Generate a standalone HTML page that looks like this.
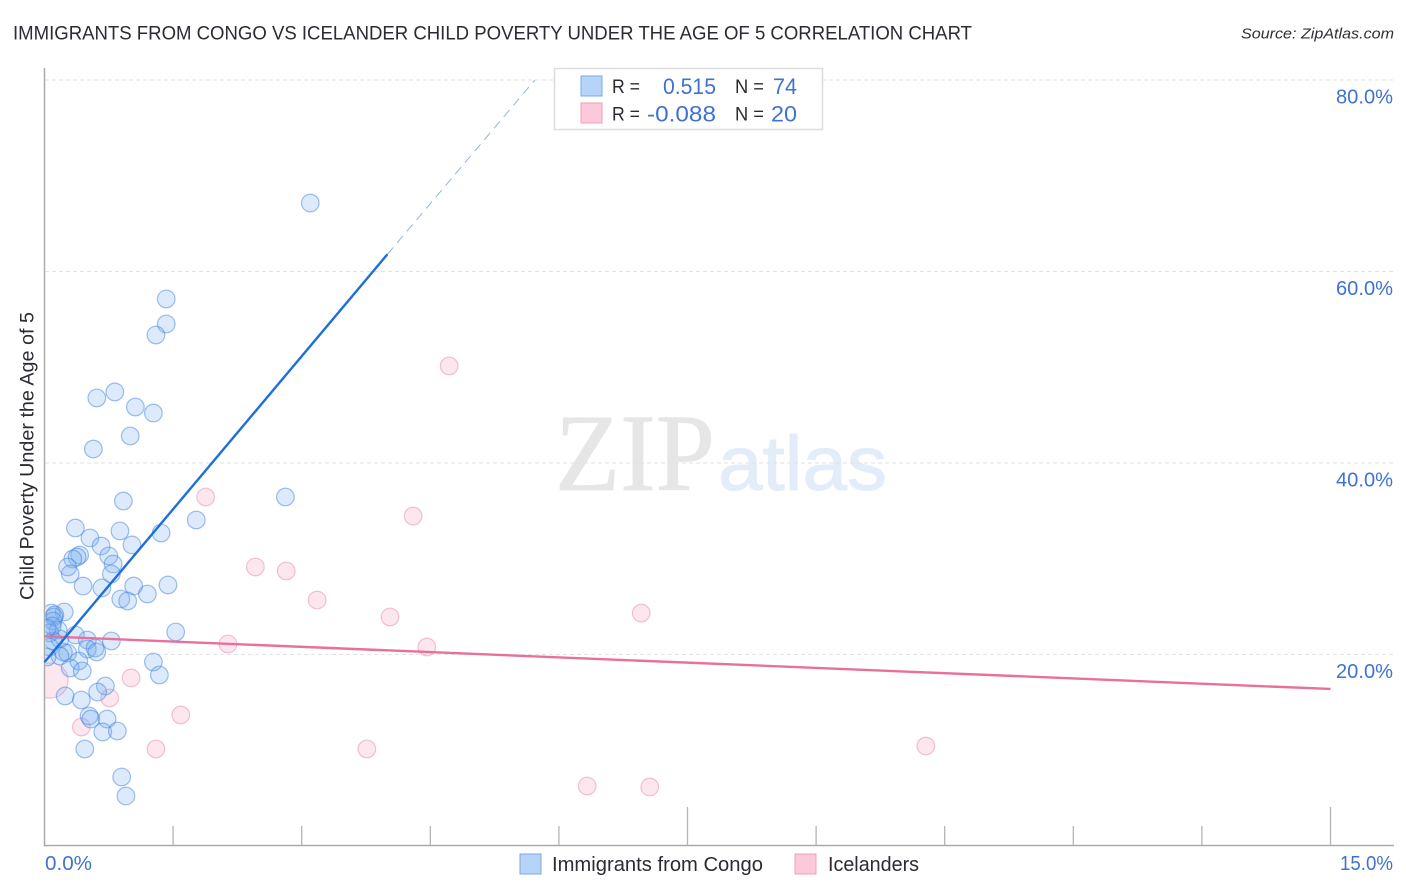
<!DOCTYPE html>
<html lang="en">
<head>
<meta charset="utf-8">
<title>Immigrants from Congo vs Icelander Child Poverty Correlation Chart</title>
<style>
html,body{margin:0;padding:0;background:#fff;}
body{width:1406px;height:892px;overflow:hidden;}
svg{display:block;}
text{font-family:"Liberation Sans",sans-serif;}
</style>
</head>
<body>
<svg id="chart" xmlns="http://www.w3.org/2000/svg" width="1406" height="892" viewBox="0 0 1406 892">
  <defs><clipPath id="plot-clip"><rect x="45.5" y="60" width="1350" height="786"/></clipPath></defs>
  <text x="13" y="39.5" font-size="19.5" fill="#2b2b33" textLength="959" lengthAdjust="spacingAndGlyphs">IMMIGRANTS FROM CONGO VS ICELANDER CHILD POVERTY UNDER THE AGE OF 5 CORRELATION CHART</text>
  <text x="1241" y="38.5" font-size="15" font-style="italic" fill="#2f2f36" textLength="153" lengthAdjust="spacingAndGlyphs">Source: ZipAtlas.com</text>
  <g>
    <text x="555" y="490" font-size="110" fill="#e6e6e6" stroke="#e6e6e6" stroke-width="0.8" style="font-family:'Liberation Serif',serif" textLength="160" lengthAdjust="spacingAndGlyphs">ZIP</text>
    <text x="718" y="490" font-size="77" fill="#e3ecf9" stroke="#e3ecf9" stroke-width="1" textLength="169" lengthAdjust="spacingAndGlyphs">atlas</text>
  </g>
  <g id="grid"></g>
  <g id="axes"></g>
  <g id="points" clip-path="url(#plot-clip)"></g>
  <g id="trends"></g>
  <text transform="translate(33.5,600) rotate(-90)" x="0" y="0" font-size="19" fill="#2b2b33" textLength="288" lengthAdjust="spacingAndGlyphs">Child Poverty Under the Age of 5</text>
  <g id="tick-labels"></g>

  <g>
    <rect x="554.5" y="68.5" width="268" height="61" fill="#fff" stroke="#dcdcdc" stroke-width="1.5"/>
    <rect x="581" y="76" width="21" height="20" fill="#b6d3f8" stroke="#7aa8e4" stroke-width="1"/>
    <rect x="581" y="103" width="21" height="20" fill="#fcc9da" stroke="#ef9fbb" stroke-width="1"/>
    <text x="612" y="93" font-size="19.5" fill="#2b2b33" textLength="28" lengthAdjust="spacingAndGlyphs">R =</text>
    <text x="663" y="94" font-size="22" fill="#3f73cf" textLength="53" lengthAdjust="spacingAndGlyphs">0.515</text>
    <text x="735" y="93" font-size="19.5" fill="#2b2b33" textLength="29" lengthAdjust="spacingAndGlyphs">N =</text>
    <text x="773" y="94" font-size="22" fill="#3f73cf" textLength="24" lengthAdjust="spacingAndGlyphs">74</text>
    <text x="612" y="120.5" font-size="19.5" fill="#2b2b33" textLength="28" lengthAdjust="spacingAndGlyphs">R =</text>
    <text x="647" y="121.5" font-size="22" fill="#3f73cf" textLength="69" lengthAdjust="spacingAndGlyphs">-0.088</text>
    <text x="735" y="120.5" font-size="19.5" fill="#2b2b33" textLength="29" lengthAdjust="spacingAndGlyphs">N =</text>
    <text x="771" y="121.5" font-size="22" fill="#3f73cf" textLength="26" lengthAdjust="spacingAndGlyphs">20</text>
  </g>

  <g>
    <rect x="520" y="854" width="21" height="20" fill="#b6d3f8" stroke="#7aa8e4" stroke-width="1"/>
    <text x="552" y="871" font-size="20" fill="#2b2b33" textLength="211" lengthAdjust="spacingAndGlyphs">Immigrants from Congo</text>
    <rect x="795" y="854" width="21" height="20" fill="#fcc9da" stroke="#ef9fbb" stroke-width="1"/>
    <text x="828" y="871" font-size="20" fill="#2b2b33" textLength="91" lengthAdjust="spacingAndGlyphs">Icelanders</text>
  </g>
</svg>
<script>
var yTicks = [20, 40, 60, 80];
var yTickLabels = ['20.0%', '40.0%', '60.0%', '80.0%'];
var xTicks = [0, 1.5, 3, 4.5, 6, 7.5, 9, 10.5, 12, 13.5, 15];
var xMajorTicks = [7.5, 15];
var xTickLabels = ['0.0%', '15.0%'];

var congoX = [3.10,1.42,1.42,1.30,0.82,0.61,1.06,1.27,1.00,0.57,2.81,0.92,1.77,0.36,0.88,1.36,0.53,1.02,0.66,0.41,0.38,0.33,0.75,0.80,0.27,0.30,0.78,0.45,1.04,1.44,0.67,1.20,0.89,0.97,0.23,0.08,0.12,0.11,0.10,0.16,0.06,1.53,0.36,0.50,0.78,0.18,0.10,0.06,0.22,0.27,0.50,0.59,0.61,0.18,0.03,0.40,1.27,1.34,0.30,0.44,0.71,0.62,0.24,0.43,0.52,0.54,0.73,0.68,0.85,0.47,0.90,0.95,0.03,0.09];
var congoY = [67.15,57.13,54.52,53.37,47.42,46.79,45.85,45.22,42.82,41.46,36.45,36.03,34.05,33.21,32.90,32.69,32.17,31.44,31.33,30.39,30.18,29.97,30.29,29.45,29.14,28.41,28.41,27.15,27.15,27.26,26.95,26.32,25.80,25.59,24.44,24.33,24.13,23.92,23.50,22.56,22.25,22.35,22.04,21.51,21.41,21.62,21.41,20.78,20.26,20.16,20.57,20.68,20.26,19.84,19.74,19.32,19.22,17.86,18.59,18.28,16.71,16.08,15.67,15.25,13.58,13.26,13.26,11.91,12.01,10.13,7.21,5.22,22.77,22.98];

var icelandX = [0.07,4.72,1.88,4.30,2.46,2.82,3.18,4.03,6.96,2.14,4.46,1.01,0.76,1.59,0.43,1.30,3.76,10.28,6.33,7.06];
var icelandY = [17.28,50.13,36.45,34.46,29.14,28.72,25.69,23.92,24.33,21.10,20.78,17.55,15.46,13.68,12.43,10.13,10.13,10.44,6.27,6.16];
var icelandWeight = [4,1,1,1,1,1,1,1,1,1,1,1,1,1,1,1,1,1,1,1];

var congoTrendX = [0, 4.0];
var congoTrendY = [19.2, 61.8];
var congoExtensionX = [4.0, 5.72];
var congoExtensionY = [61.8, 80];
var icelandTrendX = [0, 15];
var icelandTrendY = [21.9, 16.4];

var NS = 'http://www.w3.org/2000/svg';
function sx(v){ return 44.5 + v * (1330.5 - 44.5) / 15; }
function sy(v){ return 846 - v * (846 - 80) / 80; }
function mk(parent, tag, attrs, txt){
  var el = document.createElementNS(NS, tag);
  for (var k in attrs) el.setAttribute(k, attrs[k]);
  if (txt !== undefined) el.textContent = txt;
  parent.appendChild(el);
  return el;
}
var gGrid = document.getElementById('grid');
var gAxes = document.getElementById('axes');
var gPoints = document.getElementById('points');
var gTrends = document.getElementById('trends');
var gLabels = document.getElementById('tick-labels');

yTicks.forEach(function(t, i){
  var line = mk(gGrid, 'line', {x1:45, x2:1394, y1:sy(t), y2:sy(t), stroke:'#e2e2e2', 'stroke-width':1, 'stroke-dasharray':'4 3'});
  
  
  var label = mk(gLabels, 'text', {x:1393, y:sy(t) + 23.5, 'font-size':20, fill:'#3f73cf', 'text-anchor':'end', textLength:57, lengthAdjust:'spacingAndGlyphs'}, yTickLabels[i]);
  
  
});

var yAxis = mk(gAxes, 'line', {x1:44.5, x2:44.5, y1:68, y2:846.5, stroke:'#aaaaaa', 'stroke-width':1.5});


var xAxis = mk(gAxes, 'line', {x1:44, x2:1394, y1:845.5, y2:845.5, stroke:'#aaaaaa', 'stroke-width':1.5});


xTicks.forEach(function(t){
  if (t === 0) return;
  var top = xMajorTicks.indexOf(t) >= 0 ? 807 : 826;
  var tick = mk(gAxes, 'line', {x1:sx(t), x2:sx(t), y1:top, y2:845, stroke:'#b4b4b4', 'stroke-width':1.3});
  
  
});
var xLabelStart = mk(gLabels, 'text', {x:45, y:870, 'font-size':20, fill:'#3f73cf', textLength:47, lengthAdjust:'spacingAndGlyphs'}, xTickLabels[0]);


var xLabelEnd = mk(gLabels, 'text', {x:1393, y:870, 'font-size':20, fill:'#3f73cf', 'text-anchor':'end', textLength:53, lengthAdjust:'spacingAndGlyphs'}, xTickLabels[1]);



var baseRadius = 8.8;
icelandX.forEach(function(v, i){
  var c = mk(gPoints, 'circle', {cx:sx(v), cy:sy(icelandY[i]), r:baseRadius * Math.sqrt(icelandWeight[i]), fill:'#f8a8c4', 'fill-opacity':0.28, stroke:'#ea8fb0', 'stroke-opacity':0.55, 'stroke-width':1.2});
  
  
});
congoX.forEach(function(v, i){
  var c = mk(gPoints, 'circle', {cx:sx(v), cy:sy(congoY[i]), r:baseRadius, fill:'#72aaf0', 'fill-opacity':0.25, stroke:'#3f82dc', 'stroke-opacity':0.5, 'stroke-width':1.2});
  
  
});

var congoExt = mk(gTrends, 'line', {x1:sx(congoExtensionX[0]), y1:sy(congoExtensionY[0]), x2:sx(congoExtensionX[1]), y2:sy(congoExtensionY[1]), stroke:'#8fb4e6', 'stroke-width':1, 'stroke-dasharray':'9 6'});


var icelandLine = mk(gTrends, 'line', {x1:sx(icelandTrendX[0]), y1:sy(icelandTrendY[0]), x2:sx(icelandTrendX[1]), y2:sy(icelandTrendY[1]), stroke:'#e8709d', 'stroke-width':2.4});


var congoLine = mk(gTrends, 'line', {x1:sx(congoTrendX[0]), y1:sy(congoTrendY[0]), x2:sx(congoTrendX[1]), y2:sy(congoTrendY[1]), stroke:'#1f6fd8', 'stroke-width':2.4});


</script>
</body>
</html>
